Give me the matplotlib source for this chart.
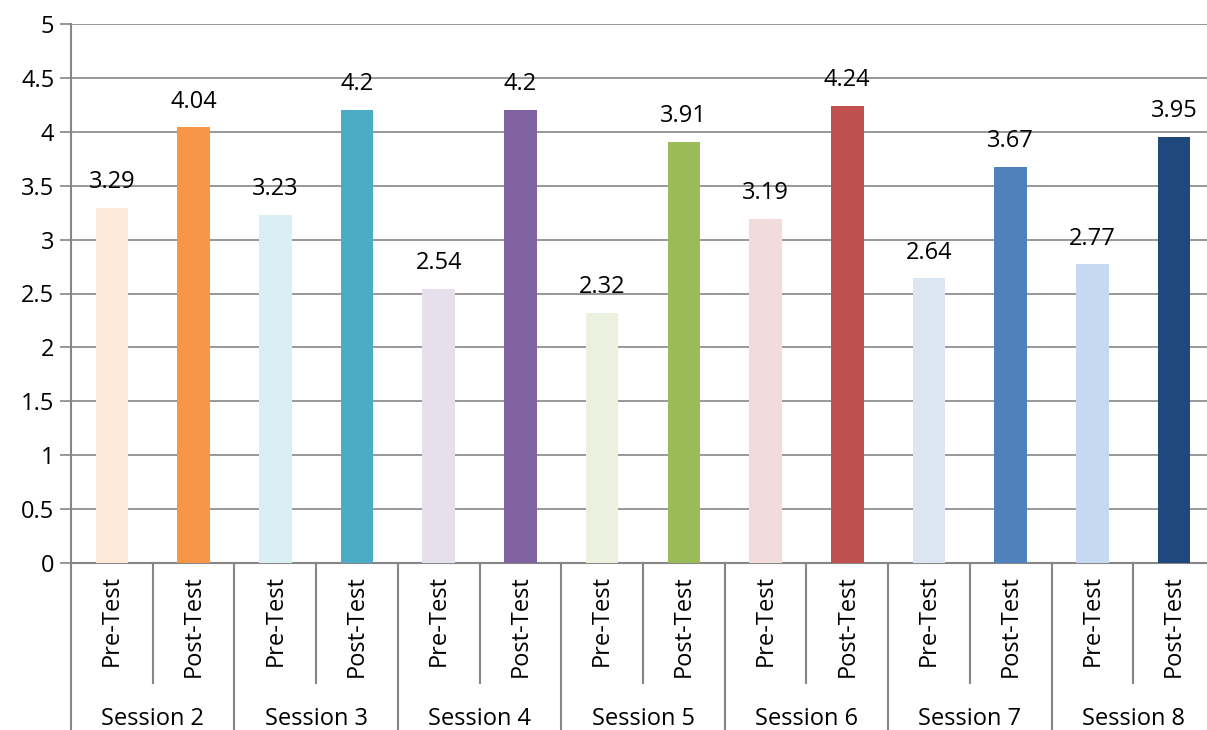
import matplotlib
matplotlib.use("Agg")
import matplotlib.pyplot as plt
import matplotlib.transforms as mtransforms

sessions = ["Session 2", "Session 3", "Session 4", "Session 5", "Session 6", "Session 7", "Session 8"]
tests = ["Pre-Test", "Post-Test"]
pre_values = [3.29, 3.23, 2.54, 2.32, 3.19, 2.64, 2.77]
post_values = [4.04, 4.2, 4.2, 3.91, 4.24, 3.67, 3.95]
pre_colors = ["#FDE9D9", "#DAEEF3", "#E5E0EC", "#EBF1DE", "#F2DCDB", "#DCE6F2", "#C6D9F1"]
post_colors = ["#F79646", "#4BACC6", "#8064A2", "#9BBB59", "#C0504D", "#4F81BD", "#1F497D"]
y_ticks = [0, 0.5, 1, 1.5, 2, 2.5, 3, 3.5, 4, 4.5, 5]
y_tick_labels = ["0", "0.5", "1", "1.5", "2", "2.5", "3", "3.5", "4", "4.5", "5"]

plt.rcParams['font.family'] = ['Open Sans', 'DejaVu Sans']
FS = 17
W, H = 1207, 730
fig = plt.figure(figsize=(W / 100, H / 100), dpi=100)
ax = fig.add_axes([71 / W, 1 - 563 / H, 1144 / W, 539 / H])

grid_c = "#868686"
values, colors, labels = [], [], []
for i in range(len(sessions)):
    values += [pre_values[i], post_values[i]]
    colors += [pre_colors[i], post_colors[i]]
    labels += tests
xs = list(range(len(values)))
bars = ax.bar(xs, values, width=0.4, color=colors, zorder=3)
for x, v in zip(xs, values):
    ax.annotate(f"{v:g}", (x, v), xytext=(0, 10), textcoords="offset points",
                ha="center", va="bottom", fontsize=FS, color="black")

ax.set_xlim(-0.5, len(values) - 0.5)
ax.set_ylim(0, 5)
ax.set_yticks(y_ticks)
ax.set_yticklabels(y_tick_labels, fontsize=FS)
ax.yaxis.grid(True, color=grid_c, linewidth=1.2, zorder=0)
ax.tick_params(axis="y", length=8, width=1.2, color=grid_c, pad=4)
ax.set_xticks([])
for s in ["top", "right"]:
    ax.spines[s].set_visible(False)
for s in ["left", "bottom"]:
    ax.spines[s].set_color(grid_c)
    ax.spines[s].set_linewidth(1.5)

# grouped category axis
trans = mtransforms.blended_transform_factory(ax.transData, ax.transAxes)
px = 1 / 539  # one pixel in axes fraction (vertical)
for x, lab in zip(xs, labels):
    ax.text(x, -12 * px, lab, rotation=90, ha="center", va="top", fontsize=FS,
            transform=trans, clip_on=False)
for k in range(len(values) + 1):
    xb = k - 0.5
    if k % 2 == 0:
        y1 = -170 * px
    else:
        y1 = -120 * px
    ax.plot([xb, xb], [0, y1], color=grid_c, linewidth=1.5, transform=trans, clip_on=False)
for i, s in enumerate(sessions):
    ax.text(2 * i + 0.5, -156 * px, s, ha="center", va="center", fontsize=FS,
            transform=trans, clip_on=False)

fig.savefig("out.png", dpi=100)
